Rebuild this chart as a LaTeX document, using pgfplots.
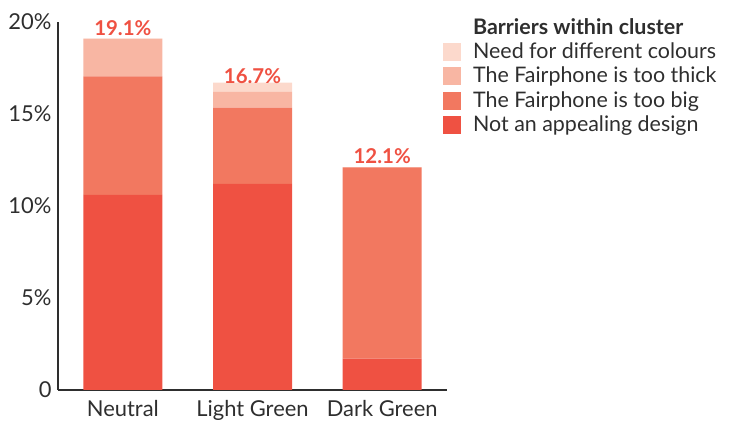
\documentclass[border=0pt]{standalone}
\usepackage{fontspec}
\setmainfont{Lato}
\usepackage{pgfplots}
\pgfplotsset{compat=1.18}
\definecolor{cA}{HTML}{EF5142}
\definecolor{cB}{HTML}{F27860}
\definecolor{cC}{HTML}{F8B6A3}
\definecolor{cD}{HTML}{FCD9CC}
\definecolor{txt}{HTML}{2E2E2E}
\begin{document}
\fontsize{19}{23}\selectfont
\begin{tikzpicture}
\path[use as bounding box] (-58bp,-33bp) rectangle (678bp,390bp);
\begin{axis}[
  at={(0,0)}, anchor=south west,
  scale only axis, width=389bp, height=368bp,
  ybar stacked, bar width=79bp,
  xmin=-0.5, xmax=2.5, ymin=0, ymax=20,
  separate axis lines,
  axis x line*=bottom, axis y line*=left,
  x axis line style={-, line width=2.6bp, draw=txt},
  y axis line style={-, line width=2.6bp, draw=txt},
  major tick length=0pt,
  ytick={0,5,10,15,20}, yticklabels={0,5\%,10\%,15\%,20\%},
  xtick={0,1,2}, xticklabels={Neutral,Light Green,Dark Green},
  tick label style={text=txt, font=\fontsize{22}{25}\selectfont},
  xticklabel style={yshift=-4bp},
  yticklabel style={xshift=0bp},
  legend style={at={(0.99,1.014)}, anchor=north west, draw=none, fill=none,
    font=\fontsize{21.5}{25}\selectfont, text=txt, row sep=1.5bp,
    /tikz/every odd column/.append style={column sep=10bp},
    inner sep=0pt, outer sep=0pt},
  legend cell align=left,
  reverse legend,
  legend image code/.code={\path[#1, draw=none] (0bp,-9bp) rectangle (18bp,9bp);},
]
\addplot[fill=cA, draw=none] coordinates {(0,10.6) (1,11.2) (2,1.7)};
\addplot[fill=cB, draw=none] coordinates {(0,6.45) (1,4.15) (2,10.4)};
\addplot[fill=cC, draw=none] coordinates {(0,2.05) (1,0.85) (2,0.001)};
\addplot[fill=cD, draw=none,
  point meta=explicit symbolic,
  nodes near coords={\pgfplotspointmeta},
  every node near coord/.append style={anchor=south, text=cA, font=\fontsize{20.5}{24}\selectfont\bfseries, inner sep=1bp, yshift=2bp}]
  coordinates {(0,0.001) [19.1\%] (1,0.5) [16.7\%] (2,0.001) [12.1\%]};
\addlegendimage{empty legend}
\legend{Not an appealing design,The Fairphone is too big,The Fairphone is too thick,Need for different colours,\textbf{Barriers within cluster}}
\end{axis}
\end{tikzpicture}
\end{document}
